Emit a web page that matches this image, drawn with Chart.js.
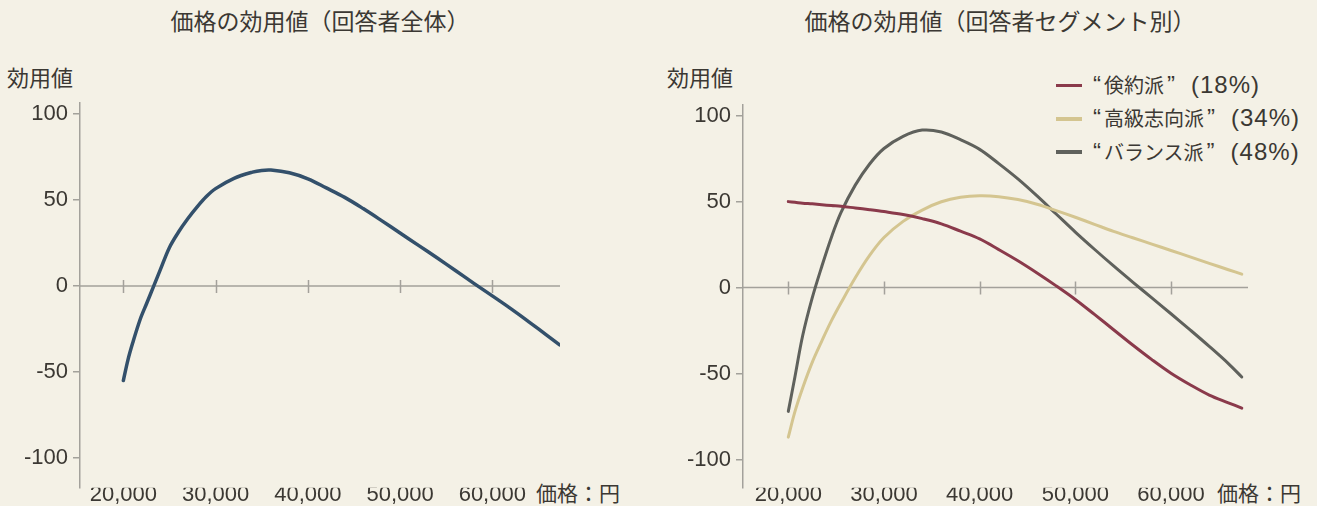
<!DOCTYPE html>
<html>
<head>
<meta charset="utf-8">
<script src="https://cdn.jsdelivr.net/npm/chart.js@4.4.1/dist/chart.umd.min.js"></script>
<style>
html,body{margin:0;padding:0;background:#f4f1e6;}
body{width:1317px;height:506px;position:relative;overflow:hidden;font-family:"Noto Sans CJK JP",sans-serif;color:#3b3833;}
canvas{position:absolute;top:0;}
.t{position:absolute;white-space:nowrap;line-height:28px;}
.title{font-size:23px;top:6px;transform:translateX(-50%);}
.ylab{font-size:22px;top:62px;}
.xlab{font-size:21px;top:478px;}
#legend{position:absolute;left:1056px;top:68px;}
#legend div{height:33.3px;line-height:33px;white-space:nowrap;font-size:20px;}
#legend .sw{display:inline-block;width:26px;height:3.5px;vertical-align:middle;margin-right:11px;position:relative;top:-2px;}
#legend .q{font-family:"Liberation Sans";font-size:24px;}
#legend .p{font-family:"Liberation Sans";font-size:24px;letter-spacing:1px;}
</style>
</head>
<body>
<div class="t title" style="left:320px">価格の効用値（回答者全体）</div>
<div class="t title" style="left:1000px">価格の効用値（回答者セグメント別）</div>
<div class="t ylab" style="left:7px">効用値</div>
<div class="t ylab" style="left:667px">効用値</div>
<div class="t xlab" style="left:536px">価格：円</div>
<div class="t xlab" style="left:1217px">価格：円</div>
<div id="legend"></div>
<canvas id="left" width="658" height="506" style="left:0"></canvas>
<canvas id="right" width="659" height="506" style="left:658px"></canvas>
<script>
(function(){
    'use strict'

    // 回答者全体
    var totalPrices = [20000, 20500, 21000, 21800, 22500, 23300, 24000, 25000, 26000, 27000, 28000, 29000, 30000,
        32000, 34000, 35000, 36000, 38000, 40000, 42000, 44000, 46000, 48000, 50000, 52000, 54000, 56000,
        58000, 60000, 62000, 64000, 66000, 67300];
    var totalUtility = [-55, -43, -33.4, -19.8, -10.5, 0, 9.3, 22.4, 31.5, 39.2, 46, 52, 56.6,
        62.6, 66.2, 67.2, 67.4, 65.8, 62.3, 57, 51.5, 45, 38, 30.8, 23.6, 16.4, 9,
        1.5, -5.8, -13.2, -21, -29, -34.3];

    // セグメント別
    var segmentPrices = [20000, 20700, 21500, 22500, 23500, 24500, 25500, 27000, 28500, 30000, 32000, 34000,
        36000, 38000, 40000, 42000, 44000, 46000, 48000, 50000, 52000, 54000, 56000, 58000, 60000,
        62000, 64000, 66000, 67400];
    var thriftyUtility = [50, 49.6, 49.1, 48.7, 48.2, 47.7, 47.3, 46.3, 45.3, 44.2, 42.5, 40.1,
        37.1, 32.8, 28.3, 22.1, 15.6, 8.5, 1, -6.9, -15.6, -24.5, -33.4, -41.9, -49.8,
        -56.5, -62.5, -67, -70.1];
    var premiumUtility = [-87, -72, -58.4, -43.5, -31.1, -19.4, -9, 5.7, 18.7, 29.1, 38.5, 45.1,
        49.9, 52.5, 53.4, 52.9, 51.2, 48.5, 44.8, 40.9, 36.8, 32.7, 29, 25.3, 21.6,
        17.9, 14.1, 10.4, 7.8];
    var balancedUtility = [-72, -51.7, -28, -6, 12.3, 29.2, 43.6, 59.6, 71.9, 80.9, 88, 91.6,
        90.5, 86, 80.4, 72.1, 63.2, 53.3, 42.8, 32.3, 22.3, 12.6, 3.2, -6, -15.2,
        -24.6, -34.2, -44.2, -52];

    var segmentNames = ['倹約派', '高級志向派', 'バランス派'];
    var segmentShares = [18, 34, 48];
    var xTicks = [20000, 30000, 40000, 50000, 60000];
    var yTicks = [-100, -50, 0, 50, 100];

    var segmentColors = ['#8a3a4b', '#d4c590', '#5f615c'];
    var totalColor = '#33506b';
    var axisColor = '#a3a19b';
    var textColor = '#3b3833';

    function toPoints(xs, ys){
        return xs.map(function(x, i){ return {x: x, y: ys[i]}; });
    }

    // 0 のところに横軸を引く
    var zeroLine = {
        id: 'zeroLine',
        beforeDatasetsDraw: function(chart){
            var ctx = chart.ctx, area = chart.chartArea;
            var y0 = chart.scales.y.getPixelForValue(0);
            ctx.save();
            ctx.strokeStyle = axisColor;
            ctx.lineWidth = 1.5;
            ctx.beginPath();
            ctx.moveTo(area.left, y0);
            ctx.lineTo(area.right, y0);
            xTicks.forEach(function(v){
                var px = Math.round(chart.scales.x.getPixelForValue(v)) + 0.5;
                ctx.moveTo(px, y0 - 6);
                ctx.lineTo(px, y0 + 7);
            });
            ctx.stroke();
            ctx.restore();
        }
    };

    function lineChart(id, datasets, o){
        return new Chart(document.getElementById(id), {
            type: 'line',
            data: {datasets: datasets},
            plugins: [zeroLine],
            options: {
                responsive: false,
                animation: false,
                devicePixelRatio: 1,
                layout: {padding: {top: o.top, right: o.right, left: 0, bottom: 0}},
                plugins: {legend: {display: false}, tooltip: {enabled: false}},
                elements: {point: {radius: 0}, line: {tension: 0.35}},
                scales: {
                    x: {
                        type: 'linear', min: o.xmin, max: o.xmax,
                        afterBuildTicks: function(s){ s.ticks = xTicks.map(function(v){ return {value: v}; }); },
                        afterFit: function(s){ s.height = 18; },
                        grid: {display: false},
                        border: {display: false},
                        ticks: {
                            autoSkip: false, maxRotation: 0, padding: -14, color: textColor,
                            font: {family: 'Liberation Sans', size: 22},
                            callback: function(v){ return v.toLocaleString('en-US'); }
                        }
                    },
                    y: {
                        min: o.ymin, max: o.ymax,
                        afterBuildTicks: function(s){ s.ticks = yTicks.map(function(v){ return {value: v}; }); },
                        afterFit: function(s){ s.width = o.yw; },
                        grid: {drawOnChartArea: false, tickLength: 7, color: axisColor, lineWidth: 1.5},
                        border: {color: axisColor, width: 1.5},
                        ticks: {padding: 5, color: textColor, font: {family: 'Liberation Sans', size: 22}}
                    }
                }
            }
        });
    }

    lineChart('left', [{
        data: toPoints(totalPrices, totalUtility),
        borderColor: totalColor, borderWidth: 3.5, borderCapStyle: 'round'
    }], {top: 103, right: 98, yw: 80, xmin: 15300, xmax: 67340, ymin: -117.4, ymax: 106.4});

    var segmentValues = [thriftyUtility, premiumUtility, balancedUtility];
    lineChart('right', segmentValues.map(function(vals, i){
        return {
            label: segmentNames[i],
            data: toPoints(segmentPrices, vals),
            borderColor: segmentColors[i], borderWidth: 3, borderCapStyle: 'round'
        };
    }), {top: 105, right: 69, yw: 85, xmin: 15265, xmax: 68050, ymin: -116.45, ymax: 106.2});

    // 凡例
    var legend = document.getElementById('legend');
    segmentNames.forEach(function(name, i){
        var row = document.createElement('div');
        row.innerHTML = '<span class="sw" style="background:' + segmentColors[i] + '"></span>' +
            '<span class="q" style="margin-right:3px">“</span>' + name +
            '<span class="q" style="margin:0 16px 0 3px">”</span>' +
            '<span class="p">(' + segmentShares[i] + '%)</span>';
        legend.appendChild(row);
    });
})();
</script>
</body>
</html>
